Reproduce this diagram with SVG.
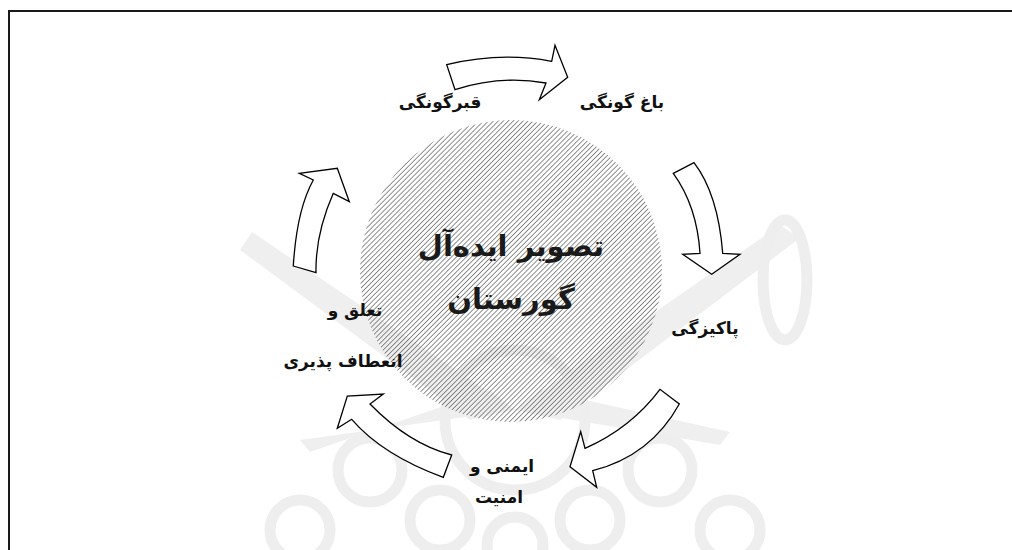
<svg xmlns="http://www.w3.org/2000/svg" width="1012" height="550" viewBox="0 0 1012 550">
  <style>
    .arrow { fill: #ffffff; stroke: #000000; stroke-width: 1.3; stroke-linejoin: miter; }
    .lbl { font-family: "DejaVu Sans", "Noto Sans", sans-serif; font-weight: bold; font-size: 17px; fill: #111111; text-anchor: middle; }
    .ctr { font-family: "DejaVu Sans", "Noto Sans", sans-serif; font-weight: bold; font-size: 29px; fill: #1a1a1a; text-anchor: middle; }
    .wm { fill: none; stroke: #eeeeee; stroke-width: 11; }
    .wmf { fill: #efefef; stroke: none; }
  </style>
  <defs>
    <pattern id="hatch" patternUnits="userSpaceOnUse" width="3.5" height="3.5" patternTransform="rotate(45)">
      <line x1="0" y1="0" x2="0" y2="3.5" stroke="#444444" stroke-width="1.2"/>
    </pattern>
  </defs>
  <rect x="0" y="0" width="1012" height="550" fill="#ffffff"/>

  <g id="watermark">
    <polygon class="wmf" points="515,410 780,225 800,238 560,420"/>
    <polygon class="wmf" points="515,410 252,232 240,250 470,420"/>
    <polygon class="wmf" points="515,410 720,445 730,432 540,390"/>
    <polygon class="wmf" points="515,410 300,440 310,452 490,390"/>
    <ellipse class="wm" cx="785" cy="280" rx="22" ry="60"/>
    <circle class="wm" cx="515" cy="420" r="70"/>
    <circle class="wm" cx="370" cy="470" r="32"/>
    <circle class="wm" cx="660" cy="470" r="32"/>
    <circle class="wm" cx="440" cy="520" r="30"/>
    <circle class="wm" cx="590" cy="520" r="30"/>
    <circle class="wm" cx="515" cy="545" r="28"/>
    <circle class="wm" cx="300" cy="530" r="30"/>
    <circle class="wm" cx="730" cy="530" r="30"/>
  </g>

  <rect x="9" y="11" width="1020" height="560" fill="none" stroke="#1a1a1a" stroke-width="2"/>

  <g id="center">
    <circle cx="511" cy="271" r="151" fill="url(#hatch)"/>
    <text class="ctr" x="511" y="256">تصویر ایده‌آل</text>
    <text class="ctr" x="511" y="309">گورستان</text>
  </g>

  <g id="connectors">
    <path class="arrow" d="M446.7,64.7 Q500,51.6 551.7,61.3 L555,45.3 L567.7,77.3 L539.3,99.7 L546,83 Q500,75 455,89.7 Z"/>
    <path class="arrow" d="M673.3,173.3 L694,162.7 Q718,194 722.7,253.3 L740,254.3 L711.7,274.3 L682.7,254.3 L700,253.3 Q697,206 673.3,173.3 Z"/>
    <path class="arrow" d="M679.3,404 Q650.6,456 592.7,470.7 L596.7,487.3 L570,466.7 L580.7,431.7 L585,448.3 Q631,428 660,389.3 Z"/>
    <path class="arrow" d="M337.3,428.3 L347.3,396 L383.3,394 L370,404 Q409,444 451.7,455 L443.3,477.3 Q382.5,455 351.7,419.3 Z"/>
    <path class="arrow" d="M293.3,266 L316,272.7 Q315.3,234 333.3,193.3 L349.3,201.7 L337.3,168.3 L299.3,173.3 L313.3,180 Q296.7,210 293.3,266 Z"/>
  </g>

  <g id="node-qabr"><text class="lbl" x="440" y="108">قبرگونگی</text></g>
  <g id="node-bagh"><text class="lbl" x="622" y="108">باغ گونگی</text></g>
  <g id="node-pakizegi"><text class="lbl" x="705" y="334">پاکیزگی</text></g>
  <g id="node-imeni">
    <text class="lbl" x="502" y="472">ایمنی و</text>
    <text class="lbl" x="499" y="503">امنیت</text>
  </g>
  <g id="node-taalogh">
    <text class="lbl" x="355" y="316">تعلق و</text>
    <text class="lbl" x="343" y="367">انعطاف پذیری</text>
  </g>
</svg>
